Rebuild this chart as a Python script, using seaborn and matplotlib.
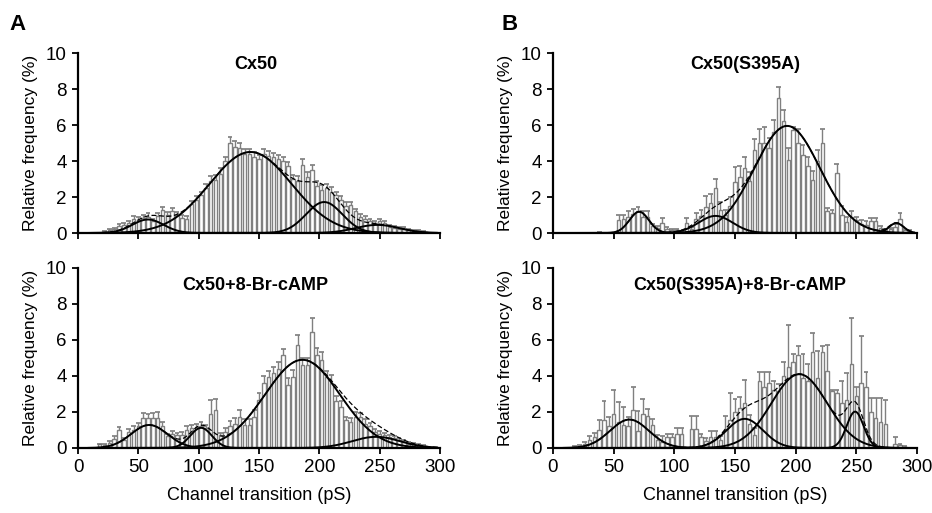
import numpy as np
import pandas as pd
import matplotlib
matplotlib.use("Agg")
import matplotlib.pyplot as plt
import seaborn as sns

# ---------------- data (4 pS bins, 0-300 pS) ----------------
bin_width = 4
bin_edges = np.arange(0, 300 + bin_width, bin_width)

cx50_freq = [0, 0, 0, 0, 0, 0.05, 0.15, 0.2, 0.4, 0.45,
             0.55, 0.8, 0.75, 0.85, 0.9, 0.65, 0.95, 1.3, 1.0, 1.25,
             1.0, 0.85, 0.8, 1.6, 1.85, 2.1, 2.5, 2.9, 2.95, 3.3,
             4.0, 5.0, 4.8, 4.7, 4.4, 4.4, 4.25, 4.1, 4.4, 4.3,
             4.2, 4.1, 4.0, 3.7, 3.0, 2.9, 3.8, 3.1, 3.5, 2.6,
             2.4, 2.5, 2.3, 2.1, 1.85, 1.5, 1.55, 1.2, 0.9, 0.8,
             0.65, 0.55, 0.65, 0.55, 0.35, 0.3, 0.25, 0.25, 0.15, 0.1,
             0.1, 0.05, 0, 0, 0]
cx50_err = [0, 0, 0, 0, 0, 0.05, 0.08, 0.1, 0.1, 0.12,
            0.12, 0.12, 0.15, 0.15, 0.2, 0.15, 0.15, 0.15, 0.15, 0.15,
            0.15, 0.15, 0.15, 0.2, 0.2, 0.2, 0.25, 0.25, 0.25, 0.3,
            0.25, 0.35, 0.3, 0.3, 0.25, 0.25, 0.25, 0.25, 0.25, 0.25,
            0.25, 0.25, 0.25, 0.25, 0.25, 0.25, 0.3, 0.3, 0.3, 0.3,
            0.25, 0.25, 0.25, 0.2, 0.2, 0.2, 0.2, 0.15, 0.15, 0.12,
            0.12, 0.12, 0.12, 0.12, 0.1, 0.1, 0.08, 0.08, 0.06, 0.05,
            0.05, 0.04, 0, 0, 0]

cx50_camp_freq = [0, 0, 0, 0, 0.2, 0.15, 0.3, 0.5, 1.0, 0.45,
                  0.9, 1.0, 1.2, 1.65, 1.65, 1.65, 1.65, 1.2, 0.65, 0.8,
                  0.7, 0.75, 1.0, 1.1, 1.15, 1.2, 1.1, 1.9, 2.1, 0.7,
                  0.9, 1.2, 1.33, 1.75, 1.3, 1.3, 1.75, 2.65, 3.6, 3.95,
                  4.15, 4.4, 5.15, 3.5, 3.95, 5.7, 4.6, 4.6, 6.45, 5.15,
                  4.9, 3.95, 3.6, 2.6, 2.3, 1.55, 1.45, 1.75, 1.75, 1.35,
                  1.2, 0.9, 0.8, 0.7, 0.6, 0.55, 0.45, 0.35, 0.25, 0.2,
                  0.15, 0.1, 0.05, 0, 0]
cx50_camp_err = [0, 0, 0, 0, 0.05, 0.05, 0.1, 0.15, 0.15, 0.1,
                 0.15, 0.2, 0.2, 0.3, 0.25, 0.3, 0.35, 0.25, 0.15, 0.15,
                 0.15, 0.15, 0.2, 0.2, 0.2, 0.25, 0.2, 0.75, 0.6, 0.15,
                 0.2, 0.3, 0.35, 0.35, 0.3, 0.3, 0.35, 0.4, 0.4, 0.35,
                 0.35, 0.4, 0.35, 0.4, 0.4, 0.6, 0.4, 0.4, 0.75, 0.4,
                 0.45, 0.35, 0.45, 0.3, 0.3, 0.2, 0.2, 0.25, 0.2, 0.25,
                 0.2, 0.15, 0.15, 0.15, 0.12, 0.12, 0.1, 0.1, 0.08, 0.06,
                 0.05, 0.04, 0.03, 0, 0]

s395a_freq = [0, 0, 0, 0, 0, 0, 0, 0, 0, 0.05,
              0, 0, 0, 0.72, 0.76, 0.9, 1.05, 1.2, 0.9, 0.9,
              0.4, 0.3, 0.55, 0.25, 0.15, 0.15, 0.05, 0.55, 0.25, 0.8,
              0.95, 1.45, 1.65, 2.5, 1.3, 1.0, 1.5, 2.85, 3.1, 3.6,
              2.9, 4.6, 5.0, 5.0, 4.7, 5.6, 7.5, 6.25, 4.05, 5.7,
              5.0, 4.35, 3.7, 2.95, 4.0, 5.0, 1.2, 1.1, 3.35, 1.0,
              0.6, 0.9, 0.7, 0.5, 0.45, 0.65, 0.65, 0.3, 0.15, 0.2,
              0.35, 0.8, 0.15, 0.1, 0]
s395a_err = [0, 0, 0, 0, 0, 0, 0, 0, 0, 0.03,
             0, 0, 0, 0.3, 0.25, 0.35, 0.3, 0.25, 0.35, 0.35,
             0.1, 0.1, 0.3, 0.1, 0.1, 0.05, 0.05, 0.3, 0.1, 0.3,
             0.35, 0.6, 0.5, 0.5, 0.4, 0.3, 0.5, 0.8, 0.6, 0.6,
             0.5, 0.6, 0.8, 0.9, 0.6, 0.7, 0.6, 0.6, 0.7, 0.2,
             0.8, 0.55, 0.5, 0.5, 0.6, 0.8, 0.2, 0.2, 0.5, 0.5,
             0.3, 0.35, 0.2, 0.2, 0.2, 0.2, 0.2, 0.1, 0.1, 0.1,
             0.15, 0.3, 0.1, 0.05, 0]

s395a_camp_freq = [0, 0, 0, 0, 0.07, 0.1, 0.25, 0.45, 0.6, 1.0,
                   1.55, 1.2, 1.9, 1.45, 1.3, 1.2, 2.1, 0.95, 1.9, 1.8,
                   1.3, 0.45, 0.35, 0.6, 0.6, 0.8, 0.8, 0, 1.05, 1.05,
                   0.6, 0.4, 0.6, 0.6, 0.45, 1.05, 1.55, 2.0, 2.2, 2.5,
                   1.35, 0.7, 3.75, 3.4, 3.6, 3.2, 3.15, 4.0, 4.5, 4.8,
                   5.15, 3.9, 3.75, 5.35, 3.9, 5.35, 4.3, 3.15, 3.05, 2.5,
                   2.65, 4.65, 2.9, 3.6, 3.4, 2.0, 1.65, 1.45, 1.35, 0,
                   0.25, 0.15, 0.07, 0, 0]
s395a_camp_err = [0, 0, 0, 0, 0.02, 0.05, 0.1, 0.2, 0.25, 0.55,
                  1.05, 0.5, 1.3, 1.1, 1.0, 0.5, 1.3, 1.1, 0.8, 0.35,
                  0.3, 0.25, 0.3, 0.2, 0.2, 0.3, 0.3, 0, 0.75, 0.75,
                  0.2, 0.15, 0.35, 0.35, 0.2, 0.75, 1.5, 0.7, 0.65, 1.3,
                  0.5, 0.4, 0.5, 0.8, 0.65, 0.55, 0.4, 0.8, 2.35, 0.4,
                  0.5, 1.3, 0.9, 1.05, 1.5, 0.3, 1.4, 0.1, 0.15, 1.2,
                  1.5, 2.55, 0.5, 2.6, 0.8, 0.8, 1.15, 1.35, 1.3, 0,
                  0.35, 0.1, 0.05, 0, 0]

# Gaussian fit components: amplitude (%), mean (pS), sd (pS)
cx50_amp = [0.75, 4.5, 1.72, 0.45]
cx50_mu = [58, 143, 204, 248]
cx50_sd = [13, 34, 15, 18]

cx50_camp_amp = [1.28, 1.12, 4.9, 0.62]
cx50_camp_mu = [59, 102, 186, 247]
cx50_camp_sd = [15, 9, 31, 20]

s395a_amp = [1.18, 0.95, 5.95, 0.55]
s395a_mu = [71, 134, 193, 283]
s395a_sd = [8, 14, 27, 6]

s395a_camp_amp = [1.58, 1.62, 4.1, 2.02]
s395a_camp_mu = [63, 158, 203, 249]
s395a_camp_sd = [16, 15, 23, 7]

titles = ["Cx50", "Cx50+8-Br-cAMP", "Cx50(S395A)", "Cx50(S395A)+8-Br-cAMP"]
x_ticks = [0, 50, 100, 150, 200, 250, 300]
y_ticks = [0, 2, 4, 6, 8, 10]

# ---------------- style ----------------
sns.set_theme(style="ticks")
plt.rcParams["font.family"] = ["Liberation Sans", "DejaVu Sans"]
plt.rcParams.update({"text.color": "black", "axes.labelcolor": "black",
                     "xtick.color": "black", "ytick.color": "black",
                     "xtick.labelcolor": "black", "ytick.labelcolor": "black"})

BAR_EDGE = "#808080"
centers = bin_edges[:-1] + bin_width / 2

fig = plt.figure(figsize=(9.32, 5.13), dpi=100)
W, H = 932, 513


def add_axes(x0, x1, ybot, ytop):
    return fig.add_axes([x0 / W, 1 - ybot / H, (x1 - x0) / W, (ybot - ytop) / H])


def draw(ax, freq, err, amps, mus, sds, title, tx, ty, bottom):
    freq = np.asarray(freq, float)
    err = np.asarray(err, float)
    df = pd.DataFrame({"x": centers, "w": freq})
    sns.histplot(data=df, x="x", weights="w", binwidth=bin_width, binrange=(0, 300),
                 shrink=0.72, color="white", edgecolor=BAR_EDGE, linewidth=1.0,
                 alpha=1, ax=ax)
    m = (freq > 0) & (err > 0)
    ax.vlines(centers[m], freq[m], freq[m] + err[m], color=BAR_EDGE, lw=1.0, zorder=3)
    ax.hlines(freq[m] + err[m], centers[m] - 2.0, centers[m] + 2.0, color="#707070",
              lw=1.1, zorder=3)
    xs = np.linspace(8, 298, 700)
    total = np.zeros_like(xs)
    for a, mu, s in zip(amps, mus, sds):
        y = a * np.exp(-0.5 * ((xs - mu) / s) ** 2)
        total += y
        sns.lineplot(x=xs, y=y, color="black", lw=1.4, ax=ax, zorder=4)
    sns.lineplot(x=xs, y=total, color="black", lw=0.9, ax=ax, zorder=4,
                 linestyle=(0, (4, 2)))
    ax.set_xlim(0, 300)
    ax.set_ylim(0, 10)
    ax.set_xticks(x_ticks)
    ax.set_yticks(y_ticks)
    ax.set_ylabel("Relative frequency (%)", fontsize=12.5, labelpad=6)
    if bottom:
        ax.set_xlabel("Channel transition (pS)", fontsize=13, labelpad=8)
    else:
        ax.set_xlabel("")
        ax.set_xticklabels([])
    ax.tick_params(axis="both", direction="out", length=4, width=1.3,
                   labelsize=13.5, color="black", pad=4)
    for sp in ["top", "right"]:
        ax.spines[sp].set_visible(False)
    for sp in ["left", "bottom"]:
        ax.spines[sp].set_linewidth(1.6)
        ax.spines[sp].set_color("black")
        ax.spines[sp].set_zorder(5)
    ax.text(tx, ty, title, transform=ax.transAxes, ha="center", va="center",
            fontsize=13, fontweight="bold", color="black")


axA1 = add_axes(78, 440, 233, 53)
axA2 = add_axes(78, 440, 448, 268)
axB1 = add_axes(553, 917, 233, 53)
axB2 = add_axes(553, 917, 448, 268)

draw(axA1, cx50_freq, cx50_err, cx50_amp, cx50_mu, cx50_sd, titles[0], 0.49, 0.935, False)
draw(axA2, cx50_camp_freq, cx50_camp_err, cx50_camp_amp, cx50_camp_mu, cx50_camp_sd,
     titles[1], 0.49, 0.905, True)
draw(axB1, s395a_freq, s395a_err, s395a_amp, s395a_mu, s395a_sd, titles[2], 0.527, 0.935, False)
draw(axB2, s395a_camp_freq, s395a_camp_err, s395a_camp_amp, s395a_camp_mu, s395a_camp_sd,
     titles[3], 0.514, 0.905, True)

fig.text(18 / W, 1 - 25 / H, "A", fontsize=16, fontweight="bold", ha="center", va="center")
fig.text(510 / W, 1 - 25 / H, "B", fontsize=16, fontweight="bold", ha="center", va="center")

fig.savefig("out.png", dpi=100)
